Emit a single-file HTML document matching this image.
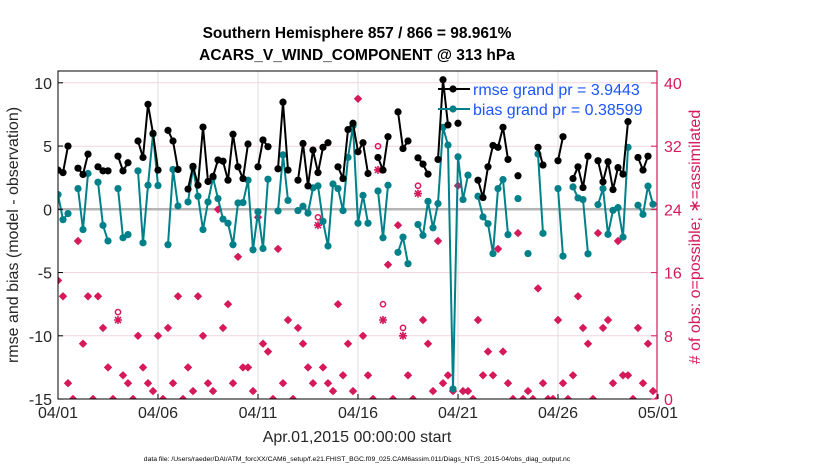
<!DOCTYPE html>
<html><head><meta charset="utf-8"><style>
body{margin:0;background:#fff;}
svg{display:block;font-family:"Liberation Sans",Arial,sans-serif;}
</style></head><body>
<svg id="chart" width="830" height="470" viewBox="0 0 830 470" xmlns="http://www.w3.org/2000/svg">
<defs><clipPath id="plotclip"><rect x="58" y="71" width="599" height="328"/></clipPath></defs>
<g font-weight="bold" font-size="15.5" text-anchor="middle" fill="#000">
<text x="357" y="38">Southern Hemisphere 857 / 866 = 98.961%</text>
<text x="357" y="60">ACARS_V_WIND_COMPONENT @ 313 hPa</text>
</g>
<g id="grid"></g>
<g id="marks" clip-path="url(#plotclip)"></g>
<rect x="58" y="71" width="599" height="328" fill="none" stroke="#000" stroke-width="1"/>
<line x1="657" y1="71" x2="657" y2="399" stroke="#d6195b" stroke-width="1.2"/>
<g id="axes"></g>
<text x="18" y="235" transform="rotate(-90 18 235)" text-anchor="middle" font-size="16" fill="#262626">rmse and bias (model - observation)</text>
<text x="700" y="237" transform="rotate(-90 700 237)" text-anchor="middle" font-size="16" fill="#d6195b"># of obs: o=possible; ∗=assimilated</text>
<text x="357" y="442" text-anchor="middle" font-size="16" fill="#262626">Apr.01,2015 00:00:00 start</text>
<text x="357" y="461" text-anchor="middle" font-size="6.8" fill="#000">data file: /Users/raeder/DAI/ATM_forcXX/CAM6_setup/f.e21.FHIST_BGC.f09_025.CAM6assim.011/Diags_NTrS_2015-04/obs_diag_output.nc</text>
<g>
<g>
<line x1="438" y1="89" x2="470" y2="89" stroke="#000" stroke-width="2"/><circle cx="453" cy="89" r="3.6" fill="#000"/>
<text x="473" y="95" font-size="16" fill="#1a55ff">rmse grand pr = 3.9443</text></g>
<g>
<line x1="438" y1="109" x2="470" y2="109" stroke="#008088" stroke-width="2"/><circle cx="453" cy="109" r="3.6" fill="#008088"/>
<text x="473" y="115" font-size="16" fill="#1a55ff">bias grand pr = 0.38599</text></g>
</g>
</svg>
<script>
const rmse = [3.1,2.9,5.0,null,3.25,2.75,4.36,null,3.36,3.04,
 3.04,null,4.2,3.04,3.68,null,5.4,4.1,8.3,6.0,
 3.1,null,6.24,5.4,3.15,null,1.6,3.4,1.9,6.5,
 2.2,2.6,3.9,3.8,2.3,5.93,3.36,2.43,5.16,null,
 3.36,5.48,4.95,null,3.2,8.47,3.1,null,2.3,5.2,
 1.85,4.68,2.9,4.9,5.26,null,3.36,2.43,6.3,6.8,
 4.55,5.26,2.83,null,4.1,3.1,5.74,null,7.7,4.8,
 5.4,null,4.07,3.57,2.78,null,3.94,10.24,6.67,null,
 6.8,null,null,null,2.3,0.93,3.36,5.05,4.9,6.48,
 3.94,null,2.65,null,null,null,4.9,3.5,null,null,
 3.84,5.74,null,2.43,3.36,1.72,4.2,null,3.84,2.17,
 3.76,1.56,3.3,2.78,6.93,null,4.1,3.1,4.2,null,
 null];
const bias = [1.16,-0.82,-0.34,null,1.64,-1.6,2.83,null,2.14,-1.27,
 -2.5,null,1.64,-2.25,-2.0,null,3.04,-2.65,1.9,5.95,
 1.88,null,-2.8,3.15,0.26,null,0.58,3.28,1.03,-1.6,
 0.58,2.5,0.85,-0.77,-1.1,-2.8,0.5,0.53,2.3,-3.2,
 -0.2,-3.1,2.38,null,-0.13,4.3,0.7,null,-0.1,0.24,
 -0.3,1.7,1.85,-0.95,-2.9,2.0,1.64,-0.1,4.1,6.6,
 -1.1,1.1,-1.1,null,1.45,-2.25,1.9,null,-3.4,-2.2,
 -4.3,null,-1.2,-2.06,0.63,-1.46,0.45,6.48,5.08,-14.2,
 4.15,0.77,2.7,null,1.03,-0.6,-1.14,-3.5,1.64,2.35,
 -2.0,null,0.85,null,-3.5,null,4.37,-1.9,null,null,
 1.64,-3.7,null,1.77,0.9,0.77,-3.52,null,0.37,1.64,
 -1.98,-0.08,0.13,-2.2,4.9,null,0.32,-0.4,1.83,0.4,
 null];
const nAssim = [15,13,2,0,20,7,13,0,13,9, 4,0,10,3,2,0,8,4,2,1,
 8,0,9,2,13,0,4,1,13,8, 2,1,24,9,12,2,18,4,4,1,
 23,7,6,0,19,2,10,0,9,7, 4,2,22,4,2,1,12,3,7,1,
 38,8,3,0,29,10,17,0,22,8, 3,0,26,10,7,1,20,2,3,1,
 27,1,1,0,10,3,6,3,19,6, 2,0,21,0,1,0,14,2,0,0,
 10,2,0,3,13,9,7,0,21,9, 10,2,20,3,3,0,9,2,7,1, 0];
const nPoss = [15,13,2,0,20,7,13,0,13,9, 4,0,11,3,2,0,8,4,2,1,
 8,0,9,2,13,0,4,1,13,8, 2,1,24,9,12,2,18,4,4,1,
 23,7,6,0,19,2,10,0,9,7, 4,2,23,4,2,1,12,3,7,1,
 38,8,3,0,32,12,17,0,22,9, 3,0,27,10,7,1,20,2,3,1,
 27,1,1,0,10,3,6,3,19,6, 2,0,21,0,1,0,14,2,0,0,
 10,2,0,3,13,9,7,0,21,9, 10,2,20,3,3,0,9,2,7,1, 0];
const xTickLabels = ["04/01","04/06","04/11","04/16","04/21","04/26","05/01"];
const xTickDays = [0,5,10,15,20,25,30];
const yLeftTicks = [-15,-10,-5,0,5,10];
const yRightTicks = [0,8,16,24,32,40];

const NS="http://www.w3.org/2000/svg";
const X0=58, PXDAY=20, STEP=0.25;
function xScale(day){return X0+day*PXDAY;}
function yLeft(v){return 209.3-v*12.65;}
function yRight(c){return 399-c*7.9;}
function mk(tag,attrs,parent){const e=document.createElementNS(NS,tag);for(const k in attrs)e.setAttribute(k,attrs[k]);parent.appendChild(e);return e;}
const grid=document.getElementById('grid'), marks=document.getElementById('marks'), axes=document.getElementById('axes');

xTickDays.forEach((d,k)=>{
  const x=xScale(d);
  if(k>0&&k<xTickDays.length-1){const g=mk('line',{x1:x,y1:71,x2:x,y2:399,stroke:'#dcdcdc','stroke-width':1},grid);
  
  }
  const t=mk('line',{x1:x,y1:399,x2:x,y2:394,stroke:'#000','stroke-width':1},axes);
  
  
  const lb=mk('text',{x:x,y:418,'text-anchor':'middle','font-size':16,fill:'#262626'},axes);
  lb.textContent=xTickLabels[k];
  
  
});
yRightTicks.forEach(c=>{
  const y=yRight(c);
  if(c>0&&c<40){const g=mk('line',{x1:58,y1:y,x2:657,y2:y,stroke:'#f4d3de','stroke-width':1},grid);
  
  }
  const t=mk('line',{x1:651,y1:y,x2:657,y2:y,stroke:'#d6195b','stroke-width':1},axes);
  
  
  const lb=mk('text',{x:664,y:y+6,'font-size':16,fill:'#d6195b'},axes);
  lb.textContent=String(c);
  
  
});
{const g=mk('line',{x1:58,y1:82.8,x2:657,y2:82.8,stroke:'#f4d3de','stroke-width':1},grid);

}
yLeftTicks.forEach(v=>{
  const y=yLeft(v);
  const t=mk('line',{x1:58,y1:y,x2:63,y2:y,stroke:'#000','stroke-width':1},axes);
  
  
  const lb=mk('text',{x:52,y:y+6,'text-anchor':'end','font-size':16,fill:'#262626'},axes);
  lb.textContent=String(v);
  
  
});
{const z=mk('line',{x1:58,y1:yLeft(0),x2:657,y2:yLeft(0),stroke:'#b5b5b5','stroke-width':2.5},grid);

}

nAssim.forEach((c,i)=>{
  const x=xScale(i*STEP), p=nPoss[i];
  if(c===p){
    const y=yRight(c);
    const g=mk('g',{fill:'#d6195b'},marks);
    
    
    mk('polygon',{points:`${x},${y-4.2} ${x+4.2},${y} ${x},${y+4.2} ${x-4.2},${y}`},g);
    mk('circle',{cx:x,cy:y,r:3.0},g);
  } else {
    const yp=yRight(p), ya=yRight(c);
    const o=mk('circle',{cx:x,cy:yp,r:2.6,fill:'none',stroke:'#d6195b','stroke-width':1.5},marks);
    
    
    const a=mk('path',{d:`M${x-4},${ya}H${x+4}M${x},${ya-4}V${ya+4}M${x-3},${ya-3}L${x+3},${ya+3}M${x-3},${ya+3}L${x+3},${ya-3}`,stroke:'#d6195b','stroke-width':1.6},marks);
    
    
  }
});

function drawSeries(vals,color,name){
  let d='';let pen=false;
  vals.forEach((v,i)=>{
    if(v===null){pen=false;return;}
    const x=xScale(i*STEP),y=yLeft(v);
    d+=(pen?'L':'M')+x.toFixed(2)+','+y.toFixed(2);pen=true;
  });
  const line=mk('path',{d:d,fill:'none',stroke:color,'stroke-width':2,'stroke-linejoin':'round'},marks);
  
  
  vals.forEach((v,i)=>{
    if(v===null)return;
    const c=mk('circle',{cx:xScale(i*STEP),cy:yLeft(v),r:3.6,fill:color},marks);
    
    
  });
}
drawSeries(bias,'#008088','bias');
drawSeries(rmse,'#000000','rmse');
</script>
</body></html>
